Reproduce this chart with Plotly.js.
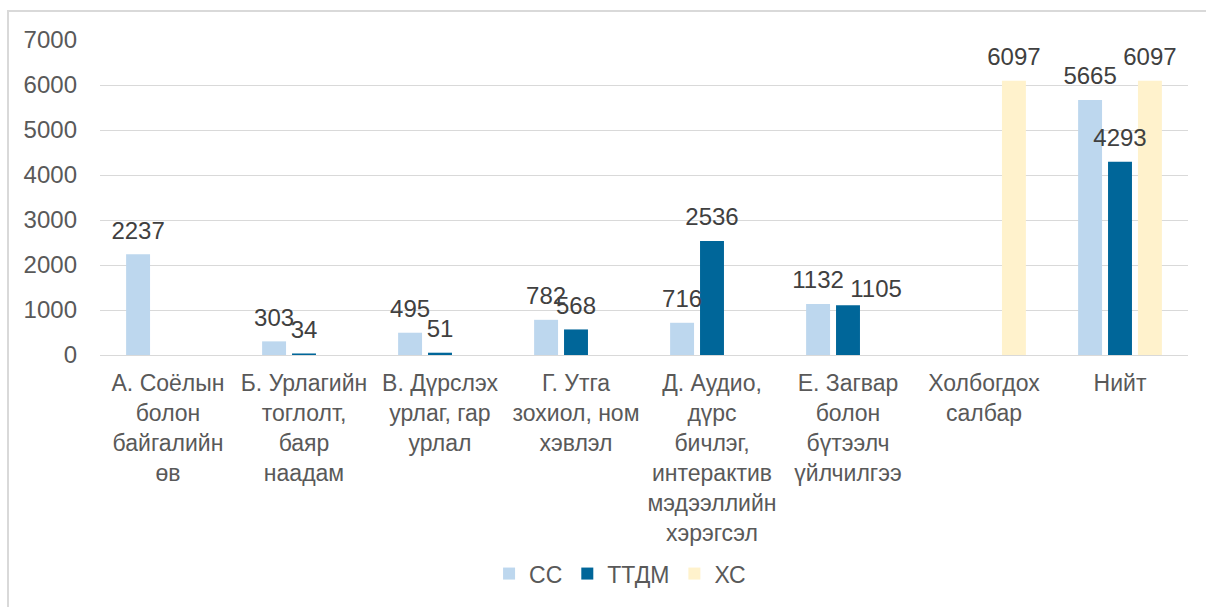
<!DOCTYPE html>
<html>
<head>
<meta charset="utf-8">
<script src="https://cdn.plot.ly/plotly-3.0.1.min.js"></script>
<style>
  html, body { margin: 0; padding: 0; background: #ffffff; }
  #wrap { position: relative; width: 1206px; height: 607px; overflow: hidden; }
  #frame { position: absolute; left: 7px; top: 10px; width: 1300px; height: 700px;
           border-left: 2px solid #d9d9d9; border-top: 2px solid #d9d9d9; box-sizing: border-box; pointer-events: none; }
  #chart { position: absolute; left: 0; top: 0; width: 1206px; height: 607px; }
</style>
</head>
<body>
<div id="wrap">
  <div id="chart"></div>
  <div id="frame"></div>
</div>
<script>
// Categories (x-axis labels, wrapped as in the reference)
const categories = [
  "А. Соёлын<br>болон<br>байгалийн<br>өв",
  "Б. Урлагийн<br>тоглолт,<br>баяр<br>наадам",
  "В. Дүрслэх<br>урлаг, гар<br>урлал",
  "Г. Утга<br>зохиол, ном<br>хэвлэл",
  "Д. Аудио,<br>дүрс<br>бичлэг,<br>интерактив<br>мэдээллийн<br>хэрэгсэл",
  "Е. Загвар<br>болон<br>бүтээлч<br>үйлчилгээ",
  "Холбогдох<br>салбар",
  "Нийт"
];

// Series values
const seriesNames = ["СС", "ТТДМ", "ХС"];
const valuesCC   = [2237, 303, 495, 782, 716, 1132, null, 5665];
const valuesTTDM = [null, 34, 51, 568, 2536, 1105, null, 4293];
const valuesXC   = [null, null, null, null, null, null, 6097, 6097];

// Y-axis ticks
const yTicks = [0, 1000, 2000, 3000, 4000, 5000, 6000, 7000];

const colors = ["#BDD7EE", "#006699", "#FFF2CC"];
const allValues = [valuesCC, valuesTTDM, valuesXC];

const FONT = "Liberation Sans, Arial, Helvetica, sans-serif";
const BARGAP = 0.34;

// label placement style (the reference nudges one label sideways)
function isNudged(seriesIndex, j) { return seriesIndex === 1 && j === 5; }
function labelPositions(seriesIndex, vals) {
  return vals.map((v, j) => isNudged(seriesIndex, j) ? "top right" : "top center");
}
function labelPads(seriesIndex, vals) {
  return vals.map((v, j) => isNudged(seriesIndex, j) ? 2 : 14);
}

const barTraces = allValues.map((vals, i) => ({
  type: "bar",
  name: seriesNames[i],
  x: categories,
  y: vals,
  marker: { color: colors[i] },
  hoverinfo: "skip"
}));

// Value labels: grouped scatter text aligned with the bar slots (invisible markers only pad the text)
const labelTraces = allValues.map((vals, i) => ({
  type: "scatter",
  mode: "markers+text",
  x: categories,
  y: vals,
  text: vals.map(v => v === null ? "" : String(v)),
  textposition: labelPositions(i, vals),
  textfont: { family: FONT, size: 24, color: "#404040" },
  marker: { size: labelPads(i, vals), color: "rgba(0,0,0,0)", opacity: 0,
            line: { width: 0, color: "rgba(0,0,0,0)" } },
  cliponaxis: false,
  showlegend: false,
  hoverinfo: "skip"
}));

const layout = {
  width: 1206,
  height: 607,
  margin: { l: 100, r: 18, t: 40, b: 250, pad: 0 },
  paper_bgcolor: "rgba(0,0,0,0)",
  plot_bgcolor: "#ffffff",
  barmode: "group",
  bargap: BARGAP,
  bargroupgap: 0.2,
  scattermode: "group",
  scattergap: BARGAP,
  showlegend: true,
  legend: {
    orientation: "h",
    x: 0.478,
    xanchor: "center",
    y: -0.694,
    yanchor: "middle",
    font: { family: FONT, size: 23, color: "#595959" },
    itemclick: false,
    itemdoubleclick: false
  },
  xaxis: {
    type: "category",
    tickfont: { family: FONT, size: 23, color: "#595959" },
    showgrid: false,
    showline: false,
    ticks: "",
    ticklabelstandoff: 12,
    fixedrange: true
  },
  yaxis: {
    range: [0, 7000],
    tickvals: yTicks,
    ticktext: yTicks.map(String),
    tickfont: { family: FONT, size: 24, color: "#595959" },
    showgrid: true,
    gridcolor: "#d9d9d9",
    gridwidth: 1,
    zeroline: true,
    zerolinecolor: "#d9d9d9",
    zerolinewidth: 1,
    showline: false,
    ticks: "",
    ticklabelstandoff: 22,
    fixedrange: true
  },
  hovermode: false
};

Plotly.newPlot("chart", barTraces.concat(labelTraces), layout, { displayModeBar: false, staticPlot: true });
</script>
</body>
</html>
